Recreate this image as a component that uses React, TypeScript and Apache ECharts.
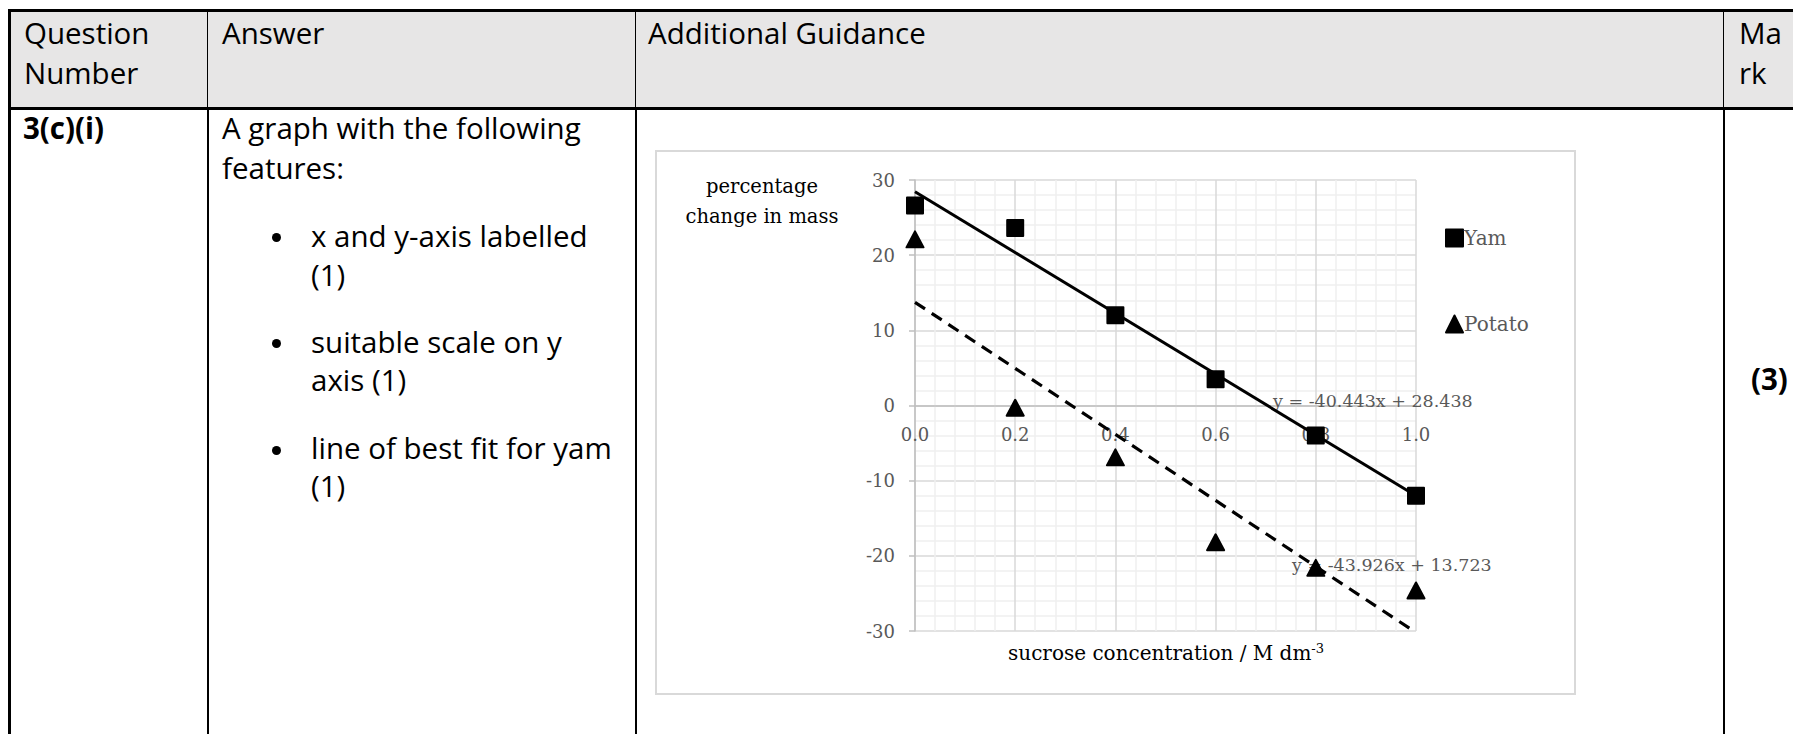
import React, { useEffect, useRef } from "react";
import * as echarts from "echarts";

// ---- data ----
const concentration = [0.0, 0.2, 0.4, 0.6, 0.8, 1.0];
const yamChange = [26.6, 23.6, 12.0, 3.5, -4.0, -12.0];
const potatoChange = [22.1, -0.3, -6.9, -18.2, -21.6, -24.6];
const trendX = [0.0, 1.0];
const yamTrendY = [28.438, -12.005];
const potatoTrendY = [13.723, -30.203];
const yamEquation = "y = -40.443x + 28.438";
const potatoEquation = "y = -43.926x + 13.723";
const seriesNames = ["Yam", "Potato"];

const headerLines = [
  { text: "Question", x: 24, cy: 35 },
  { text: "Number", x: 24, cy: 75 },
  { text: "Answer", x: 222, cy: 35 },
  { text: "Additional Guidance", x: 648, cy: 35 },
  { text: "Ma", x: 1739, cy: 35 },
  { text: "rk", x: 1739, cy: 75 },
];
const bodyLines = [
  { text: "3(c)(i)", x: 23, cy: 130, bold: true },
  { text: "A graph with the following", x: 222, cy: 130 },
  { text: "features:", x: 222, cy: 170 },
  { text: "x and y-axis labelled", x: 311, cy: 238 },
  { text: "(1)", x: 311, cy: 277 },
  { text: "suitable scale on y", x: 311, cy: 344 },
  { text: "axis (1)", x: 311, cy: 382 },
  { text: "line of best fit for yam", x: 311, cy: 450 },
  { text: "(1)", x: 311, cy: 488 },
  { text: "(3)", x: 1751, cy: 381, bold: true },
];
const bulletYs = [237, 343, 450];

const SANS = '"Open Sans", "Noto Sans", sans-serif';
const SERIF = '"DejaVu Serif", "Liberation Serif", serif';

function Line({ text, x, cy, bold }: { text: string; x: number; cy: number; bold?: boolean }) {
  return (
    <div
      style={{
        position: "absolute",
        left: x,
        top: cy - 22,
        fontFamily: SANS,
        fontSize: 29.5,
        lineHeight: "40px",
        fontWeight: bold ? 700 : 400,
        color: "#000",
        whiteSpace: "nowrap",
      }}
    >
      {text}
    </div>
  );
}

function Chart() {
  const ref = useRef<HTMLDivElement>(null);
  useEffect(() => {
    if (!ref.current) return;
    const chart = echarts.init(ref.current, undefined, { renderer: "svg" });
    const grid = { left: 260, top: 30, width: 501, height: 451 };
    chart.setOption({
      animation: false,
      grid,
      legend: {
        data: seriesNames,
        orient: "vertical",
        left: 785,
        top: 73,
        itemWidth: 17,
        itemHeight: 17,
        itemGap: 66,
        textStyle: { fontFamily: SERIF, fontSize: 20, color: "#595959", lineHeight: 17, padding: [0, 0, 0, -4] },
      },
      xAxis: {
        type: "value",
        min: 0,
        max: 1,
        interval: 0.2,
        position: "bottom",
        offset: -grid.height / 2,
        axisLine: { onZero: false, lineStyle: { color: "#bfbfbf", width: 1.5 } },
        axisTick: { show: false },
        axisLabel: {
          formatter: (v: number) => v.toFixed(1),
          color: "#595959",
          fontFamily: SERIF,
          fontSize: 18,
          margin: 20,
        },
        splitLine: { show: true, lineStyle: { color: "#d9d9d9", width: 1.5 } },
        minorTick: { show: false, splitNumber: 5 },
        minorSplitLine: { show: true, lineStyle: { color: "#efefef", width: 1.5 } },
      },
      yAxis: {
        type: "value",
        min: -30,
        max: 30,
        interval: 10,
        axisLine: { show: true, onZero: false, lineStyle: { color: "#bfbfbf", width: 1.5 } },
        axisTick: { show: true, length: 6, lineStyle: { color: "#bfbfbf", width: 1.5 } },
        axisLabel: { color: "#595959", fontFamily: SERIF, fontSize: 18, margin: 20 },
        splitLine: { show: true, lineStyle: { color: "#d9d9d9", width: 1.5 } },
        minorTick: { show: false, splitNumber: 5 },
        minorSplitLine: { show: true, lineStyle: { color: "#efefef", width: 1.5 } },
      },
      graphic: [
        {
          type: "text",
          x: 107,
          y: 51,
          z: 1,
          style: {
            text: "percentage\nchange in mass",
            align: "center",
            verticalAlign: "middle",
            lineHeight: 30,
            fontFamily: SERIF,
            fontSize: 19.5,
            fill: "#000",
          },
        },
        {
          type: "text",
          x: 511,
          y: 503,
          z: 1,
          style: {
            text: "sucrose concentration / M dm{sup|-3}",
            align: "center",
            verticalAlign: "middle",
            fontFamily: SERIF,
            fontSize: 20,
            fill: "#000",
            rich: {
              sup: { fontFamily: SERIF, fontSize: 13, fill: "#000", verticalAlign: "top", padding: [0, 0, 10, 0] },
            },
          },
        },
        {
          type: "text",
          x: 618,
          y: 251,
          z: 1,
          style: { text: yamEquation, verticalAlign: "middle", fontFamily: SERIF, fontSize: 17.5, fill: "#595959" },
        },
        {
          type: "text",
          x: 637,
          y: 415,
          z: 1,
          style: { text: potatoEquation, verticalAlign: "middle", fontFamily: SERIF, fontSize: 17.5, fill: "#595959" },
        },
      ],
      series: [
        {
          name: "YamTrend",
          type: "line",
          data: trendX.map((x, i) => [x, yamTrendY[i]]),
          showSymbol: false,
          symbol: "none",
          lineStyle: { color: "#000", width: 3 },
          z: 3,
          silent: true,
        },
        {
          name: "PotatoTrend",
          type: "line",
          data: trendX.map((x, i) => [x, potatoTrendY[i]]),
          showSymbol: false,
          symbol: "none",
          lineStyle: { color: "#000", width: 3.2, type: [12, 8] },
          z: 3,
          silent: true,
        },
        {
          name: seriesNames[0],
          type: "scatter",
          data: concentration.map((x, i) => [x, yamChange[i]]),
          symbol: "rect",
          symbolSize: 16,
          itemStyle: { color: "#000", opacity: 1, borderColor: "#000", borderWidth: 2, borderJoin: "round" },
          z: 4,
        },
        {
          name: seriesNames[1],
          type: "scatter",
          data: concentration.map((x, i) => [x, potatoChange[i]]),
          symbol: "triangle",
          symbolSize: [17, 16],
          itemStyle: { color: "#000", opacity: 1, borderColor: "#000", borderWidth: 2, borderJoin: "round" },
          z: 4,
        },
      ],
    });
    return () => chart.dispose();
  }, []);
  return <div ref={ref} style={{ position: "absolute", left: 655, top: 150, width: 921, height: 545 }} />;
}

export default function App() {
  const W = 1793;
  const H = 734;
  const colXs = [207, 635, 1723];
  return (
    <div style={{ position: "absolute", left: 0, top: 0, width: W, height: H, background: "#fff", overflow: "hidden" }}>
      <div style={{ position: "absolute", left: 10, top: 11, width: W, height: 97, background: "#e7e6e6" }} />
      <div style={{ position: "absolute", left: 9, top: 9, width: W, height: 3, background: "#000" }} />
      <div style={{ position: "absolute", left: 9, top: 107, width: W, height: 3, background: "#000" }} />
      <div style={{ position: "absolute", left: 8, top: 9, width: 2.5, height: H, background: "#000" }} />
      {colXs.map((x) => (
        <React.Fragment key={x}>
          <div style={{ position: "absolute", left: x, top: 10, width: 1.2, height: 98, background: "#000" }} />
          <div style={{ position: "absolute", left: x, top: 108, width: 2.2, height: H, background: "#000" }} />
        </React.Fragment>
      ))}
      {headerLines.map((l, i) => (
        <Line key={"h" + i} {...l} />
      ))}
      {bodyLines.map((l, i) => (
        <Line key={"b" + i} {...l} />
      ))}
      {bulletYs.map((y) => (
        <div
          key={"bul" + y}
          style={{
            position: "absolute",
            left: 272,
            top: y - 4.5,
            width: 9,
            height: 9,
            borderRadius: "50%",
            background: "#000",
          }}
        />
      ))}
      <div
        style={{
          position: "absolute",
          left: 655,
          top: 150,
          width: 921,
          height: 545,
          border: "2px solid #d9d9d9",
          boxSizing: "border-box",
        }}
      />
      <Chart />
    </div>
  );
}
